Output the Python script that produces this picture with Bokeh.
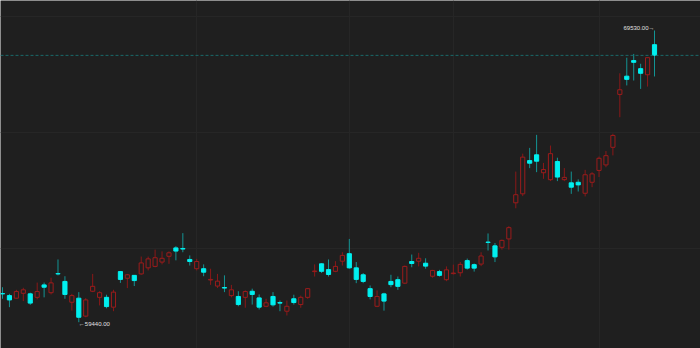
from bokeh.plotting import figure
from bokeh.models import Range1d, Span, FixedTicker, ColumnDataSource
from bokeh.embed import file_html
from bokeh.resources import INLINE
from bokeh.core.properties import value

opens = [60430, 60360, 60270, 60440, 60420, 60300, 60730, 60460, 61120, 60850,
         60130, 60270, 59650, 60510, 60300, 60300, 59960, 61190, 60960, 61060,
         61110, 61320, 61370, 61520, 61720, 62010, 61990, 61610, 61290, 61290,
         60900, 60690, 60640, 60360, 60330, 60300, 60510, 60280, 59990, 60330,
         60120, 59820, 60250, 60050, 60300, 61190, 61460, 61260, 61200, 61550,
         61810, 61320, 61080, 60600, 59990, 60420, 60850, 60910, 60790, 61540,
         61550, 61480, 61030, 61190, 60910, 61120, 61150, 61570, 61430, 61450,
         62210, 62080, 62030, 62320, 63570, 63880, 65030, 65230, 64610, 64370,
         65000, 64370, 64260, 64280, 63900, 64280, 64690, 64880, 65490, 67320,
         67950, 68490, 68210, 68000, 69040]
highs = [60650, 60420, 60560, 60630, 60460, 60810, 60810, 60980, 61610, 61030,
         60420, 60480, 60270, 61110, 60510, 60390, 60560, 61210, 61110, 61070,
         61710, 61710, 61950, 61890, 61890, 62070, 62520, 61750, 61630, 61440,
         61290, 61110, 61060, 60730, 60510, 60540, 60600, 60400, 60250, 60480,
         60190, 60190, 60390, 60360, 60620, 61440, 61480, 61610, 61550, 61860,
         62320, 61520, 61140, 60710, 60540, 60460, 61080, 61020, 61400, 61780,
         61840, 61650, 61250, 61250, 61370, 61430, 61520, 61640, 61470, 61860,
         62510, 62180, 62300, 62760, 64650, 65270, 65470, 65920, 64950, 65550,
         65130, 64770, 64650, 64380, 64710, 64630, 65170, 65360, 65960, 68050,
         68590, 68720, 68380, 68590, 69530]
lows = [60250, 59960, 60250, 60170, 60040, 60230, 60300, 60400, 61060, 60250,
        59840, 59440, 59610, 60480, 60020, 59920, 59820, 60800, 60620, 60690,
        61080, 61230, 61340, 61440, 61460, 61580, 61860, 61400, 61230, 61030,
        60730, 60620, 60480, 60300, 59990, 59940, 60050, 59880, 59960, 59980,
        59820, 59670, 60050, 59940, 60250, 61020, 61140, 61020, 61170, 61400,
        61290, 60790, 60790, 60230, 59960, 59840, 60650, 60560, 60770, 61340,
        61370, 61290, 60980, 61020, 60860, 61090, 61020, 61260, 61190, 61380,
        61920, 61520, 61950, 61950, 63380, 63800, 64770, 64630, 64400, 64320,
        64320, 64320, 63880, 63960, 63790, 64110, 64460, 64800, 65210, 66530,
        67630, 67800, 67510, 67590, 67940]
closes = [60420, 60210, 60500, 60560, 60100, 60500, 60650, 60800, 61110, 60400,
          60360, 59610, 60210, 60680, 60460, 59980, 60480, 60920, 61080, 60880,
          61490, 61630, 61670, 61650, 61840, 61900, 61970, 61540, 61540, 61170,
          60920, 60860, 60620, 60560, 60050, 60500, 60400, 59960, 60110, 60040,
          60100, 59990, 60120, 60300, 60600, 61210, 61200, 61090, 61370, 61750,
          61320, 60920, 60850, 60330, 60330, 60170, 60740, 60680, 61370, 61470,
          61650, 61380, 61230, 61060, 61250, 61140, 61440, 61310, 61310, 61730,
          62200, 61700, 62270, 62710, 63850, 65150, 64940, 65010, 64720, 65270,
          64460, 64450, 64110, 64190, 64540, 64570, 65110, 65200, 65900, 67480,
          67840, 68430, 68050, 68590, 68670]

grid_prices = [62000, 66000, 70000]
grid_idx = [28, 50, 65, 86]

BG = "#1f1f1f"
GRID = "#262626"
UP_LINE = "#9c1c1c"
UP_WICK = "#8a1818"
DN_FILL = "#00f0f0"
DN_WICK = "#139494"

n = len(opens)
idx = list(range(n))

up = dict(x=[], top=[], bottom=[], high=[], low=[])
dn = dict(x=[], top=[], bottom=[], high=[], low=[])
for i in idx:
    d = up if closes[i] >= opens[i] else dn
    d["x"].append(i)
    d["top"].append(max(opens[i], closes[i]))
    d["bottom"].append(min(opens[i], closes[i]))
    d["high"].append(highs[i])
    d["low"].append(lows[i])

p = figure(width=700, height=348, output_backend="svg", toolbar_location=None,
           x_range=Range1d(-0.288, 100.63), y_range=Range1d(58530, 70568),
           min_border=0, background_fill_color=BG, border_fill_color=BG,
           outline_line_color=None)
p.xaxis.visible = False
p.yaxis.visible = False
p.xgrid.ticker = FixedTicker(ticks=grid_idx)
p.ygrid.ticker = FixedTicker(ticks=grid_prices)
p.grid.grid_line_color = GRID
p.grid.grid_line_width = 1

su = ColumnDataSource(up)
sd = ColumnDataSource(dn)

p.segment(x0="x", y0="high", x1="x", y1="low", source=sd, line_color=DN_WICK, line_width=1)
p.vbar(x="x", top="top", bottom="bottom", width=0.6, source=sd,
       fill_color=DN_FILL, line_color=DN_FILL, line_width=1)

p.segment(x0="x", y0="high", x1="x", y1="low", source=su, line_color=UP_WICK, line_width=1)
p.vbar(x="x", top="top", bottom="bottom", width=0.6, source=su,
       fill_color=BG, line_color=UP_LINE, line_width=1)

last_close = closes[-1]
p.add_layout(Span(location=last_close, dimension="width", line_color="#1a6a6a",
                  line_width=1, line_dash="3 2"))

imax = highs.index(max(highs))
imin = lows.index(min(lows))
p.text(x=[imax], y=[highs[imax]], text=["%.2f\u2192" % highs[imax]],
       text_align="right", text_baseline="middle", y_offset=-3,
       text_color="#e0e0e0", text_font=value("Liberation Sans"), text_font_size="6px")
p.text(x=[imin], y=[lows[imin]], text=["\u2190%.2f" % lows[imin]],
       text_align="left", text_baseline="middle", y_offset=2,
       text_color="#e0e0e0", text_font=value("Liberation Sans"), text_font_size="6px")

open("out.html", "w").write(file_html(p, INLINE))
